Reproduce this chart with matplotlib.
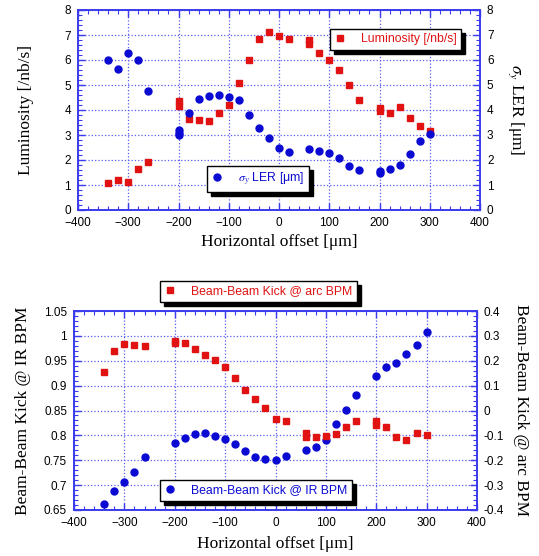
import matplotlib
matplotlib.use("Agg")
import matplotlib.pyplot as plt
from matplotlib.ticker import MultipleLocator
from matplotlib.lines import Line2D

# top panel: luminosity and sigma_y vs horizontal offset
lum_x = [-340, -320, -300, -280, -260, -200, -200, -180, -160, -140, -120, -100, -80, -60, -40, -20,
         0, 20, 60, 60, 80, 100, 120, 140, 160, 200, 200, 220, 240, 260, 280, 300]
lum_y = [1.07, 1.2, 1.13, 1.63, 1.92, 4.35, 4.15, 3.64, 3.6, 3.56, 3.87, 4.2, 5.09, 6.0, 6.83, 7.12,
         6.97, 6.85, 6.8, 6.64, 6.29, 6.0, 5.59, 4.99, 4.4, 4.09, 3.97, 3.89, 4.12, 3.68, 3.37, 3.15]

sig_x = [-340, -320, -300, -280, -260, -200, -200, -200, -180, -160, -140, -120, -100, -80, -60, -40, -20,
         0, 20, 60, 80, 100, 120, 140, 160, 200, 200, 220, 240, 260, 280, 300]
sig_y = [6.0, 5.63, 6.27, 6.0, 4.76, 3.2, 3.09, 3.0, 3.87, 4.43, 4.57, 4.61, 4.52, 4.4, 3.79, 3.27, 2.87,
         2.48, 2.33, 2.43, 2.37, 2.27, 2.08, 1.77, 1.59, 1.57, 1.49, 1.65, 1.81, 2.23, 2.77, 3.03]

# bottom panel: beam-beam kicks
arc_x = [-340, -320, -300, -280, -260, -200, -200, -180, -160, -140, -120, -100, -80, -60, -40, -20,
         0, 20, 60, 60, 80, 100, 120, 140, 160, 200, 200, 220, 240, 260, 280, 300]
arc_y = [0.156, 0.24, 0.268, 0.262, 0.258, 0.28, 0.27, 0.27, 0.248, 0.224, 0.202, 0.176, 0.13, 0.082, 0.048, 0.012,
         -0.034, -0.042, -0.092, -0.105, -0.105, -0.101, -0.094, -0.065, -0.042, -0.042, -0.058, -0.068,
         -0.108, -0.117, -0.09, -0.098]

ir_x = [-340, -320, -300, -280, -260, -200, -180, -160, -140, -120, -100, -80, -60, -40, -20,
        0, 20, 60, 80, 100, 120, 140, 160, 200, 220, 240, 260, 280, 300]
ir_y = [0.663, 0.689, 0.706, 0.726, 0.756, 0.785, 0.794, 0.802, 0.804, 0.799, 0.792, 0.783, 0.769, 0.756, 0.753,
        0.7505, 0.758, 0.7705, 0.7765, 0.7915, 0.8235, 0.8515, 0.8805, 0.9195, 0.938, 0.9455, 0.964, 0.981, 1.008]

RED = '#e01212'
BLUE = '#0a0ad2'
AXBLUE = '#3a3aee'
SANS = 'Liberation Sans'
SERIF = 'Liberation Serif'
MS = 5

plt.rcParams['mathtext.fontset'] = 'stix'


def style_axes(ax, ax2, ymaj, ymin, y2maj, y2min):
    for a in (ax, ax2):
        for sp in a.spines.values():
            sp.set_color(AXBLUE)
            sp.set_linewidth(1.2)
    ax.xaxis.set_major_locator(MultipleLocator(100))
    ax.xaxis.set_minor_locator(MultipleLocator(20))
    ax.yaxis.set_major_locator(MultipleLocator(ymaj))
    ax.yaxis.set_minor_locator(MultipleLocator(ymin))
    ax2.yaxis.set_major_locator(MultipleLocator(y2maj))
    ax2.yaxis.set_minor_locator(MultipleLocator(y2min))
    ax.tick_params(which='both', direction='in', color=AXBLUE, top=True, right=False,
                   labelsize=8.5, labelcolor='black', pad=5)
    ax.tick_params(which='major', length=5, width=1)
    ax.tick_params(which='minor', length=3, width=0.8)
    ax2.tick_params(which='both', direction='in', color=AXBLUE, labelsize=8.5, pad=5)
    ax2.tick_params(which='major', length=5, width=1)
    ax2.tick_params(which='minor', length=3, width=0.8)
    for lab in ax.get_xticklabels() + ax.get_yticklabels() + ax2.get_yticklabels():
        lab.set_family(SANS)
    ax.grid(True, which='major', color='#5a5af0', linestyle=':', linewidth=0.9)


def legend_box(fig, handle, text, color, x, y):
    leg = fig.legend([handle], [text], loc='upper left', bbox_to_anchor=(x, y),
                     bbox_transform=fig.transFigure, frameon=True, fancybox=False,
                     shadow={'color': 'black', 'alpha': 1.0, 'ox': 3, 'oy': -3},
                     handlelength=1.0, handletextpad=1.2, borderpad=0.35, borderaxespad=0,
                     prop={'family': SANS, 'size': 8.8})
    leg.get_frame().set_edgecolor('black')
    leg.get_frame().set_linewidth(1.0)
    for t in leg.get_texts():
        t.set_color(color)
    return leg


fig = plt.figure(figsize=(5.39, 5.56), dpi=100)

# ---- top panel
ax1 = fig.add_axes([78 / 539, 1 - 210 / 556, 402 / 539, 200 / 556])
ax1r = ax1.twinx()
ax1.plot(lum_x, lum_y, 's', color=RED, ms=MS, zorder=3)
ax1r.plot(sig_x, sig_y, 'o', color=BLUE, ms=MS, zorder=3)
ax1.set_xlim(-400, 400)
ax1.set_ylim(0, 8)
ax1r.set_ylim(0, 8)
style_axes(ax1, ax1r, 1, 0.2, 1, 0.2)
ax1.set_xlabel('Horizontal offset [μm]', family=SERIF, fontsize=12.5, labelpad=4)
ax1.set_ylabel('Luminosity [/nb/s]', family=SERIF, fontsize=12.5, labelpad=22)
ax1r.set_ylabel(r'$\sigma_y$ LER [μm]', family=SERIF, fontsize=12.5, rotation=270, labelpad=23)

# ---- bottom panel
ax2 = fig.add_axes([74 / 539, 1 - 510 / 556, 403 / 539, 199 / 556])
ax2r = ax2.twinx()
ax2.plot(ir_x, ir_y, 'o', color=BLUE, ms=MS, zorder=3)
ax2r.plot(arc_x, arc_y, 's', color=RED, ms=MS, zorder=3)
ax2.set_xlim(-400, 400)
ax2.set_ylim(0.65, 1.05)
ax2r.set_ylim(-0.4, 0.4)
style_axes(ax2, ax2r, 0.05, 0.01, 0.1, 0.02)
ax2.yaxis.set_major_formatter(plt.FuncFormatter(lambda v, p: f'{v:g}'))
ax2r.yaxis.set_major_formatter(plt.FuncFormatter(lambda v, p: '0' if abs(v) < 1e-9 else f'{v:.1f}'))
ax2.set_xlabel('Horizontal offset [μm]', family=SERIF, fontsize=12.5, labelpad=5)
ax2.set_ylabel('Beam-Beam Kick @ IR BPM', family=SERIF, fontsize=12.5, labelpad=9)
ax2r.set_ylabel('Beam-Beam Kick @ arc BPM', family=SERIF, fontsize=12.5, rotation=270, labelpad=18)

sq = Line2D([], [], marker='s', color=RED, ls='none', ms=MS)
ci = Line2D([], [], marker='o', color=BLUE, ls='none', ms=MS)
legend_box(fig, sq, 'Luminosity [/nb/s]', RED, 330 / 539, 1 - 29 / 556)
legend_box(fig, ci, r'$\sigma_y$ LER [μm]', BLUE, 207 / 539, 1 - 166 / 556)
legend_box(fig, sq, 'Beam-Beam Kick @ arc BPM', RED, 160 / 539, 1 - 281 / 556)
legend_box(fig, ci, 'Beam-Beam Kick @ IR BPM', BLUE, 160 / 539, 1 - 480 / 556)

fig.savefig('out.png', dpi=100)
